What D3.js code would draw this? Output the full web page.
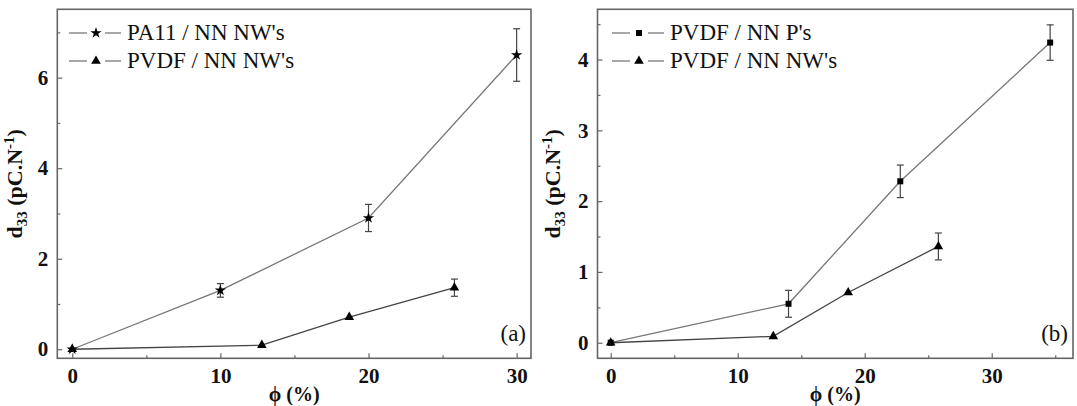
<!DOCTYPE html>
<html>
<head>
<meta charset="utf-8">
<script src="https://cdn.jsdelivr.net/npm/d3@7"></script>
<style>
  html, body { margin: 0; padding: 0; background: #fff; }
  svg { display: block; }
</style>
</head>
<body>
<svg id="chart" width="1077" height="406"></svg>
<script>
// ---------- DATA ----------
// Panel (a)
const pa11X = [0, 10, 20, 30];
const pa11Y = [0, 1.3, 2.9, 6.5];
const pa11Err = [0, 0.15, 0.3, 0.58];

const nwX = [0, 12.8, 18.7, 25.8];
const nwY = [0, 0.09, 0.71, 1.36];
const nwErr = [0, 0, 0, 0.19];

// Panel (b)
const npX = [0, 14, 22.8, 34.6];
const npY = [0, 0.55, 2.28, 4.24];
const npErr = [0, 0.19, 0.23, 0.25];

const xTicksA = [0, 10, 20, 30];
const xMinorA = [5, 15, 25];
const yTicksA = [0, 2, 4, 6];
const yMinorA = [1, 3, 5, 7];

const xTicksB = [0, 10, 20, 30];
const xMinorB = [5, 15, 25, 35];
const yTicksB = [0, 1, 2, 3, 4];
const yMinorB = [0.5, 1.5, 2.5, 3.5, 4.5];

const legendA = ["PA11 / NN NW's", "PVDF / NN NW's"];
const legendB = ["PVDF / NN P's", "PVDF / NN NW's"];

// ---------- DRAW ----------
const FONT = "Liberation Serif";
const svg = d3.select("#chart");
const frameColor = "#666";
const lineColor = "#777";
const lineDark = "#444";

function zip(xs, ys, es) { return xs.map((x, i) => ({x, y: ys[i], e: es[i]})); }

function panel(cfg) {
  const g = svg.append("g");
  const x = d3.scaleLinear().domain(cfg.xDomain).range([cfg.left, cfg.right]);
  const y = d3.scaleLinear().domain(cfg.yDomain).range([cfg.bottom, cfg.top]);

  const xa = g.append("g").attr("transform", `translate(0,${cfg.bottom})`)
    .call(d3.axisBottom(x).tickValues(cfg.xTicks).tickSize(-5).tickPadding(0).tickFormat(d3.format("d")));
  xa.attr("font-family", FONT);
  xa.select(".domain").remove();
  xa.selectAll("line").attr("stroke", frameColor).attr("stroke-width", 1.2);
  xa.selectAll("text").attr("y", 25).attr("dy", null).attr("font-family", FONT)
    .attr("font-size", 21).attr("font-weight", "bold").attr("fill", "#111");
  const xm = g.append("g").attr("transform", `translate(0,${cfg.bottom})`)
    .call(d3.axisBottom(x).tickValues(cfg.xMinor).tickSize(-3).tickFormat(""));
  xm.select(".domain").remove();
  xm.selectAll("line").attr("stroke", frameColor).attr("stroke-width", 1.2);

  const ya = g.append("g").attr("transform", `translate(${cfg.left},0)`)
    .call(d3.axisLeft(y).tickValues(cfg.yTicks).tickSize(-5).tickPadding(9).tickFormat(d3.format("d")));
  ya.attr("font-family", FONT);
  ya.select(".domain").remove();
  ya.selectAll("line").attr("stroke", frameColor).attr("stroke-width", 1.2);
  ya.selectAll("text").attr("font-family", FONT).attr("font-size", 21).attr("font-weight", "bold").attr("fill", "#111");
  const ym = g.append("g").attr("transform", `translate(${cfg.left},0)`)
    .call(d3.axisLeft(y).tickValues(cfg.yMinor).tickSize(-3).tickFormat(""));
  ym.select(".domain").remove();
  ym.selectAll("line").attr("stroke", frameColor).attr("stroke-width", 1.2);

  g.append("rect").attr("x", cfg.left).attr("y", cfg.top)
    .attr("width", cfg.right - cfg.left).attr("height", cfg.bottom - cfg.top)
    .attr("fill", "none").attr("stroke", frameColor).attr("stroke-width", 1.6);

  const line = d3.line().x(d => x(d.x)).y(d => y(d.y));

  cfg.series.forEach(s => {
    const data = s.data;
    g.append("path").datum(data).attr("d", line)
      .attr("fill", "none").attr("stroke", s.lineColor).attr("stroke-width", 1.3);
    const eb = g.append("g").selectAll("g").data(data.filter(d => d.e > 0)).join("g");
    eb.append("line").attr("x1", d => x(d.x)).attr("x2", d => x(d.x))
      .attr("y1", d => y(d.y - d.e)).attr("y2", d => y(d.y + d.e))
      .attr("stroke", "#444").attr("stroke-width", 1.2);
    eb.append("line").attr("x1", d => x(d.x) - 3.5).attr("x2", d => x(d.x) + 3.5)
      .attr("y1", d => y(d.y + d.e)).attr("y2", d => y(d.y + d.e))
      .attr("stroke", "#444").attr("stroke-width", 1.2);
    eb.append("line").attr("x1", d => x(d.x) - 3.5).attr("x2", d => x(d.x) + 3.5)
      .attr("y1", d => y(d.y - d.e)).attr("y2", d => y(d.y - d.e))
      .attr("stroke", "#444").attr("stroke-width", 1.2);
    g.append("g").selectAll("path").data(data).join("path")
      .attr("transform", d => `translate(${x(d.x)},${y(d.y)})`)
      .attr("d", d3.symbol().type(s.symbol).size(s.size))
      .attr("fill", "#000");
  });

  cfg.series.forEach((s, i) => {
    const ly = cfg.legendY + i * 28;
    g.append("line").attr("x1", cfg.legendX).attr("x2", cfg.legendX + 18)
      .attr("y1", ly).attr("y2", ly).attr("stroke", lineColor).attr("stroke-width", 1.3);
    g.append("line").attr("x1", cfg.legendX + 36).attr("x2", cfg.legendX + 52)
      .attr("y1", ly).attr("y2", ly).attr("stroke", lineColor).attr("stroke-width", 1.3);
    g.append("path").attr("transform", `translate(${cfg.legendX + 27},${ly})`)
      .attr("d", d3.symbol().type(s.symbol).size(s.size)).attr("fill", "#000");
    g.append("text").attr("x", cfg.legendX + 58).attr("y", ly + 7)
      .attr("font-family", FONT)
      .attr("font-size", 23).attr("fill", "#111").text(s.name);
  });

  g.append("text").attr("x", cfg.right - 5).attr("y", cfg.bottom - 17)
    .attr("font-family", FONT)
    .attr("text-anchor", "end").attr("font-size", 23).attr("fill", "#111").text(cfg.tag);

  g.append("text").attr("x", (cfg.left + cfg.right) / 2).attr("y", 401)
    .attr("font-family", FONT)
    .attr("text-anchor", "middle").attr("font-size", 20).attr("font-weight", "bold")
    .attr("fill", "#111").text("\u03d5 (%)");

  const yl = g.append("text")
    .attr("transform", `translate(${cfg.yLabelX},${(cfg.top + cfg.bottom) / 2}) rotate(-90)`)
    .attr("font-family", FONT)
    .attr("text-anchor", "middle").attr("font-size", 22).attr("font-weight", "bold").attr("fill", "#111");
  yl.append("tspan").text("d");
  yl.append("tspan").attr("font-size", 15).attr("dy", 5).text("33");
  yl.append("tspan").attr("dy", -5).text(" (pC.N");
  yl.append("tspan").attr("font-size", 15).attr("dy", -8).text("-1");
  yl.append("tspan").attr("dy", 8).text(")");
}

panel({
  left: 57.3, right: 531, top: 9.3, bottom: 358.3,
  xDomain: [-1.01, 30.97], yDomain: [-0.2, 7.51],
  xTicks: xTicksA, xMinor: xMinorA, yTicks: yTicksA, yMinor: yMinorA,
  legendX: 69, legendY: 33, tag: "(a)", yLabelX: 22,
  series: [
    {name: legendA[0], data: zip(pa11X, pa11Y, pa11Err), symbol: d3.symbolStar, size: 40, lineColor: lineColor},
    {name: legendA[1], data: zip(nwX, nwY, nwErr), symbol: d3.symbolTriangle, size: 40, lineColor: lineDark}
  ]
});

panel({
  left: 597.5, right: 1073, top: 9.3, bottom: 358.3,
  xDomain: [-1.04, 36.4], yDomain: [-0.22, 4.71],
  xTicks: xTicksB, xMinor: xMinorB, yTicks: yTicksB, yMinor: yMinorB,
  legendX: 612, legendY: 33, tag: "(b)", yLabelX: 560,
  series: [
    {name: legendB[0], data: zip(npX, npY, npErr), symbol: d3.symbolSquare, size: 36, lineColor: lineColor},
    {name: legendB[1], data: zip(nwX, nwY, nwErr), symbol: d3.symbolTriangle, size: 40, lineColor: lineDark}
  ]
});
</script>
</body>
</html>
